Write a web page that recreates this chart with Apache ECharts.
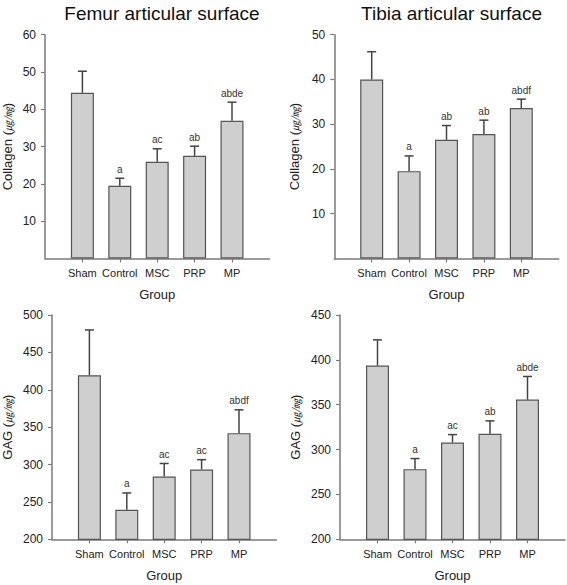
<!DOCTYPE html>
<html>
<head>
<meta charset="utf-8">
<script src="https://cdn.jsdelivr.net/npm/echarts@6/dist/echarts.min.js"></script>
<style>html,body{margin:0;padding:0;background:#fff}#c{width:567px;height:585px}</style>
</head>
<body>
<div id="c"></div>
<script>
// ---- data ----
var categories = ['Sham', 'Control', 'MSC', 'PRP', 'MP'];
var panelTitles = ['Femur articular surface', 'Tibia articular surface'];
var xAxisName = 'Group';

var femurCollagen = [44.4, 19.5, 25.9, 27.5, 36.9];
var femurCollagenSE = [5.8, 2.0, 3.5, 2.6, 5.0];
var femurCollagenLetters = ['', 'a', 'ac', 'ab', 'abde'];

var tibiaCollagen = [40.0, 19.5, 26.5, 27.8, 33.6];
var tibiaCollagenSE = [6.2, 3.4, 3.2, 3.1, 2.0];
var tibiaCollagenLetters = ['', 'a', 'ab', 'ab', 'abdf'];

var femurGAG = [419.5, 239.5, 284.0, 293.4, 342.0];
var femurGAGSE = [60.5, 22.5, 17.4, 13.1, 31.2];
var femurGAGLetters = ['', 'a', 'ac', 'ac', 'abdf'];

var tibiaGAG = [393.7, 278.2, 307.8, 317.6, 355.7];
var tibiaGAGSE = [28.6, 11.8, 8.9, 14.4, 25.8];
var tibiaGAGLetters = ['', 'a', 'ac', 'ab', 'abde'];

var collagenTicks = { femur: [0, 60, 10], tibia: [0, 50, 10] };
var gagTicks = { femur: [200, 500, 50], tibia: [200, 450, 50] };

// ---- styling / layout ----
var FONT = '"Liberation Sans", Arial, Helvetica, sans-serif';
var AXIS_COLOR = '#7a7a7a';
var TEXT_COLOR = '#222';

var panels = [
  { grid: { left: 45, top: 34.7, width: 224.4, height: 223.7 }, vals: femurCollagen, se: femurCollagenSE, letters: femurCollagenLetters, ticks: collagenTicks.femur, yName: 'Collagen', nameGap: 31, showMin: false },
  { grid: { left: 334.3, top: 34.7, width: 224.4, height: 223.7 }, vals: tibiaCollagen, se: tibiaCollagenSE, letters: tibiaCollagenLetters, ticks: collagenTicks.tibia, yName: 'Collagen', nameGap: 33, showMin: false },
  { grid: { left: 52, top: 315, width: 224.4, height: 224.3 }, vals: femurGAG, se: femurGAGSE, letters: femurGAGLetters, ticks: gagTicks.femur, yName: 'GAG', nameGap: 38, showMin: true },
  { grid: { left: 340, top: 315, width: 225, height: 224.3 }, vals: tibiaGAG, se: tibiaGAGSE, letters: tibiaGAGLetters, ticks: gagTicks.tibia, yName: 'GAG', nameGap: 38, showMin: true }
];

var paddedCats = [''].concat(categories).concat(['']);

var option = {
  animation: false,
  backgroundColor: '#fff',
  textStyle: { fontFamily: FONT },
  title: [
    { text: panelTitles[0], left: 157, top: -1, textAlign: 'center', textStyle: { fontSize: 19, fontWeight: 'normal', color: '#111', fontFamily: FONT } },
    { text: panelTitles[1], left: 446.5, top: -1, textAlign: 'center', textStyle: { fontSize: 19, fontWeight: 'normal', color: '#111', fontFamily: FONT } }
  ],
  grid: [], xAxis: [], yAxis: [], series: []
};

panels.forEach(function (p, i) {
  var g = Object.assign({ outerBoundsMode: 'none', containLabel: false }, p.grid);
  option.grid.push(g);
  option.xAxis.push({
    type: 'category', gridIndex: i, data: paddedCats, boundaryGap: false,
    name: xAxisName, nameLocation: 'middle', nameGap: 30,
    nameTextStyle: { fontSize: 13, color: TEXT_COLOR, fontFamily: FONT },
    axisLine: { lineStyle: { color: AXIS_COLOR, width: 1.5 } },
    axisTick: { show: true, length: 4, inside: false, interval: function (idx) { return idx > 0 && idx < 6; }, lineStyle: { color: AXIS_COLOR, width: 1.2 } },
    axisLabel: { interval: 0, fontSize: 11, color: TEXT_COLOR, margin: 9, fontFamily: FONT },
    splitLine: { show: false }
  });
  option.yAxis.push({
    type: 'value', gridIndex: i, min: p.ticks[0], max: p.ticks[1], interval: p.ticks[2],
    name: p.yName + ' ({u|㎍/㎎})', nameLocation: 'middle', nameGap: p.nameGap, nameRotate: 90,
    nameTextStyle: { fontSize: 13, color: TEXT_COLOR, fontFamily: FONT,
      rich: { u: { fontSize: 10, fontStyle: 'italic', color: TEXT_COLOR, fontFamily: '"Noto Sans CJK KR", "Noto Sans CJK SC", sans-serif' } } },
    axisLine: { show: true, lineStyle: { color: AXIS_COLOR, width: 1.5 } },
    axisTick: { show: true, length: 4, lineStyle: { color: AXIS_COLOR, width: 1.2 } },
    axisLabel: { fontSize: 12, color: TEXT_COLOR, margin: 9, showMinLabel: p.showMin, fontFamily: FONT },
    splitLine: { show: false }
  });
  option.series.push({
    type: 'bar', xAxisIndex: i, yAxisIndex: i, barWidth: 23,
    data: [null].concat(p.vals).concat([null]),
    itemStyle: { color: '#cfcfcf', borderColor: '#555', borderWidth: 1.2 },
    z: 2
  });
  var errData = p.vals.map(function (v, k) { return [k + 1, v, v + p.se[k]]; });
  option.series.push({
    type: 'custom', xAxisIndex: i, yAxisIndex: i, z: 3,
    data: errData,
    renderItem: (function (letters) {
      return function (params, api) {
        var x = api.value(0);
        var base = api.coord([x, api.value(1)]);
        var top = api.coord([x, api.value(2)]);
        var half = 4.5;
        var children = [
          { type: 'line', shape: { x1: base[0], y1: base[1], x2: top[0], y2: top[1] }, style: { stroke: '#444', lineWidth: 1.5 } },
          { type: 'line', shape: { x1: top[0] - half, y1: top[1], x2: top[0] + half, y2: top[1] }, style: { stroke: '#444', lineWidth: 1.5 } }
        ];
        var t = letters[params.dataIndex];
        if (t) {
          children.push({ type: 'text', style: { text: t, x: top[0], y: top[1] - 4, align: 'center', verticalAlign: 'bottom', fontSize: 10, fontFamily: FONT, fill: '#333' } });
        }
        return { type: 'group', children: children };
      };
    })(p.letters)
  });
});

var chart = echarts.init(document.getElementById('c'), null, { renderer: 'svg' });
chart.setOption(option);
</script>
</body>
</html>
